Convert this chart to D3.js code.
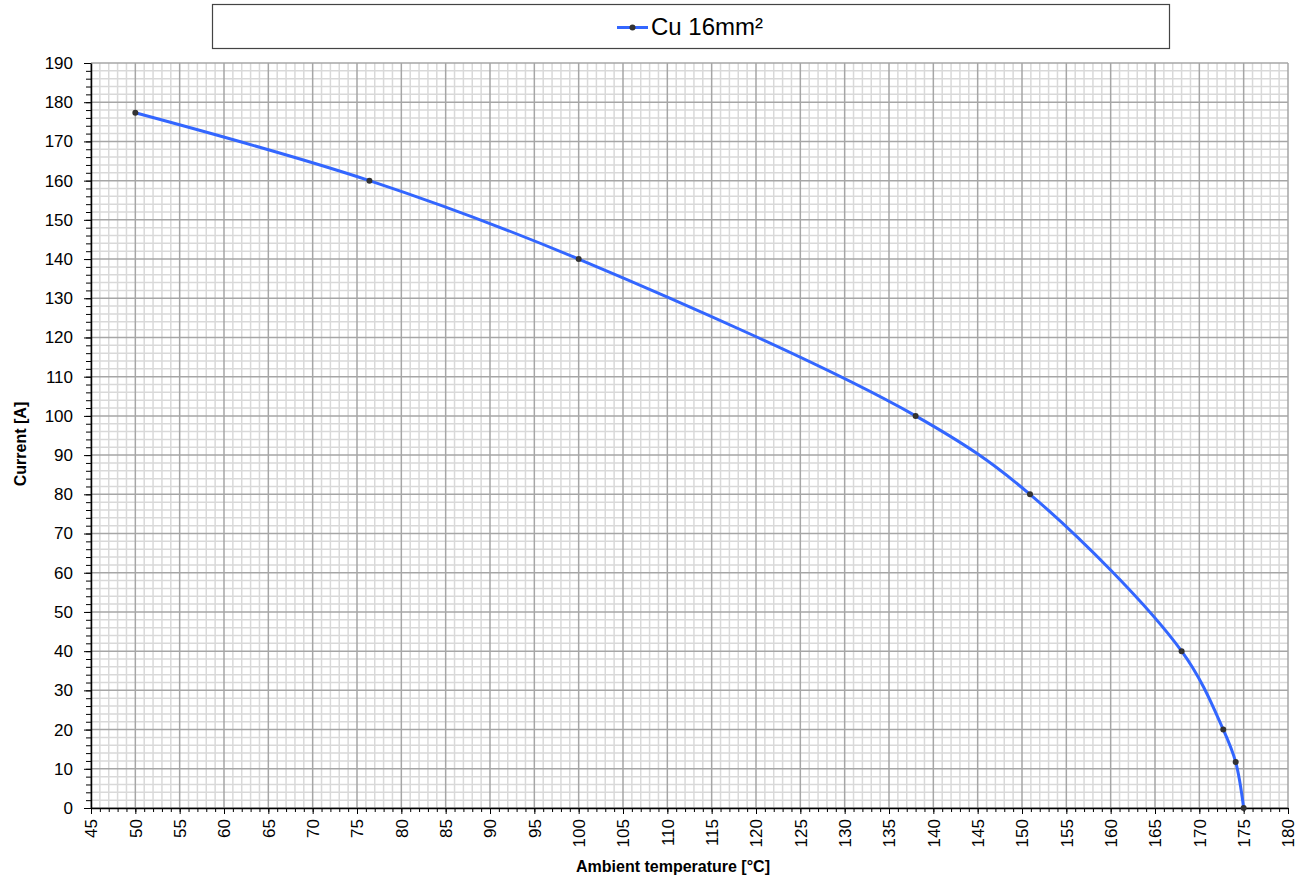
<!DOCTYPE html>
<html>
<head>
<meta charset="utf-8">
<script src="https://cdn.jsdelivr.net/npm/d3@7"></script>
<style>
  body { margin: 0; background: #fff; }
  text { font-family: "Liberation Sans", Arial, sans-serif; }
</style>
</head>
<body>
<div id="chart"></div>
<script>
// Data
const seriesName = "Cu 16mm²";
const temperatures = [50, 76.4, 100, 138, 150.9, 168, 172.7, 174.1, 175];
const currents = [177.3, 160, 140, 100, 80, 40, 20, 11.7, 0];
const xDomain = [45, 180];
const yDomain = [0, 190];
const xMajorStep = 5, xMinorStep = 1;
const yMajorStep = 10, yMinorStep = 2;
const xTitle = "Ambient temperature [°C]";
const yTitle = "Current [A]";

// Page and plot area
const W = 1307, H = 877;
const margin = { top: 63, right: 19, bottom: 69, left: 91 };
const width = W - margin.left - margin.right;
const height = H - margin.top - margin.bottom;

const svg = d3.select("#chart")
  .append("svg")
  .attr("width", W)
  .attr("height", H);

const g = svg.append("g")
  .attr("transform", "translate(" + margin.left + "," + margin.top + ")");

const x = d3.scaleLinear().domain(xDomain).range([0, width]);
const y = d3.scaleLinear().domain(yDomain).range([height, 0]);

const xMinor = d3.range(xDomain[0], xDomain[1] + 0.001, xMinorStep);
const xMajor = d3.range(xDomain[0], xDomain[1] + 0.001, xMajorStep);
const yMinor = d3.range(yDomain[0], yDomain[1] + 0.001, yMinorStep);
const yMajor = d3.range(yDomain[0], yDomain[1] + 0.001, yMajorStep);

// minor grid
g.append("g").selectAll("line")
  .data(xMinor.filter(v => v % xMajorStep !== 0))
  .enter().append("line")
  .attr("x1", d => x(d)).attr("x2", d => x(d))
  .attr("y1", 0).attr("y2", height)
  .attr("stroke", "#d9d9d9").attr("stroke-width", 1.5);
g.append("g").selectAll("line")
  .data(yMinor.filter(v => v % yMajorStep !== 0))
  .enter().append("line")
  .attr("y1", d => y(d)).attr("y2", d => y(d))
  .attr("x1", 0).attr("x2", width)
  .attr("stroke", "#d9d9d9").attr("stroke-width", 1.5);

// major grid
g.append("g").selectAll("line")
  .data(xMajor)
  .enter().append("line")
  .attr("x1", d => x(d)).attr("x2", d => x(d))
  .attr("y1", 0).attr("y2", height)
  .attr("stroke", "#a6a6a6").attr("stroke-width", 1.5);
g.append("g").selectAll("line")
  .data(yMajor)
  .enter().append("line")
  .attr("y1", d => y(d)).attr("y2", d => y(d))
  .attr("x1", 0).attr("x2", width)
  .attr("stroke", "#a6a6a6").attr("stroke-width", 1.5);

// minor ticks
g.append("g")
  .attr("transform", "translate(0," + height + ")")
  .call(d3.axisBottom(x).tickValues(xMinor).tickSize(4).tickFormat(""))
  .call(a => a.select(".domain").remove());
g.append("g")
  .call(d3.axisLeft(y).tickValues(yMinor).tickSize(5).tickFormat(""))
  .call(a => a.select(".domain").remove());

// major ticks + labels
const xAxis = g.append("g")
  .attr("transform", "translate(0," + height + ")")
  .call(d3.axisBottom(x).tickValues(xMajor).tickSize(6).tickSizeOuter(0));
xAxis.select(".domain").attr("stroke", "#000").attr("stroke-width", 1.5);
xAxis.selectAll(".tick line").attr("stroke", "#000");
xAxis.selectAll("text")
  .attr("font-size", 17)
  .attr("fill", "#000")
  .attr("transform", "rotate(-90)")
  .attr("text-anchor", "end")
  .attr("x", -11)
  .attr("y", 0)
  .attr("dy", "0.35em");

const yAxis = g.append("g")
  .call(d3.axisLeft(y).tickValues(yMajor).tickSize(7).tickSizeOuter(0));
yAxis.select(".domain").attr("stroke", "#000").attr("stroke-width", 1.5);
yAxis.selectAll(".tick line").attr("stroke", "#000");
yAxis.selectAll("text")
  .attr("font-size", 17)
  .attr("fill", "#000")
  .attr("x", -18);

// the curve (smoothed like the spreadsheet line)
const line = d3.line()
  .x((d, i) => x(temperatures[i]))
  .y(d => y(d))
  .curve(d3.curveCatmullRom.alpha(0.5));

g.append("path")
  .datum(currents)
  .attr("d", line)
  .attr("fill", "none")
  .attr("stroke", "#3366ff")
  .attr("stroke-width", 3);

g.selectAll(".pt")
  .data(currents)
  .enter().append("circle")
  .attr("class", "pt")
  .attr("cx", (d, i) => x(temperatures[i]))
  .attr("cy", d => y(d))
  .attr("r", 3)
  .attr("fill", "#333");

// axis titles
svg.append("text")
  .attr("x", 673)
  .attr("y", 872)
  .attr("text-anchor", "middle")
  .attr("font-size", 16)
  .attr("font-weight", "bold")
  .text(xTitle);

svg.append("text")
  .attr("transform", "translate(26,444) rotate(-90)")
  .attr("text-anchor", "middle")
  .attr("font-size", 16)
  .attr("font-weight", "bold")
  .text(yTitle);

// legend
const legend = svg.append("g");
legend.append("rect")
  .attr("x", 212.5).attr("y", 4.5)
  .attr("width", 957).attr("height", 44)
  .attr("fill", "#fff")
  .attr("stroke", "#444")
  .attr("stroke-width", 1.2);
legend.append("line")
  .attr("x1", 617).attr("x2", 648)
  .attr("y1", 27.5).attr("y2", 27.5)
  .attr("stroke", "#3366ff").attr("stroke-width", 3);
legend.append("circle")
  .attr("cx", 632.5).attr("cy", 27.5).attr("r", 3)
  .attr("fill", "#333");
legend.append("text")
  .attr("x", 651).attr("y", 35)
  .attr("font-size", 24)
  .text(seriesName);
</script>
</body>
</html>
